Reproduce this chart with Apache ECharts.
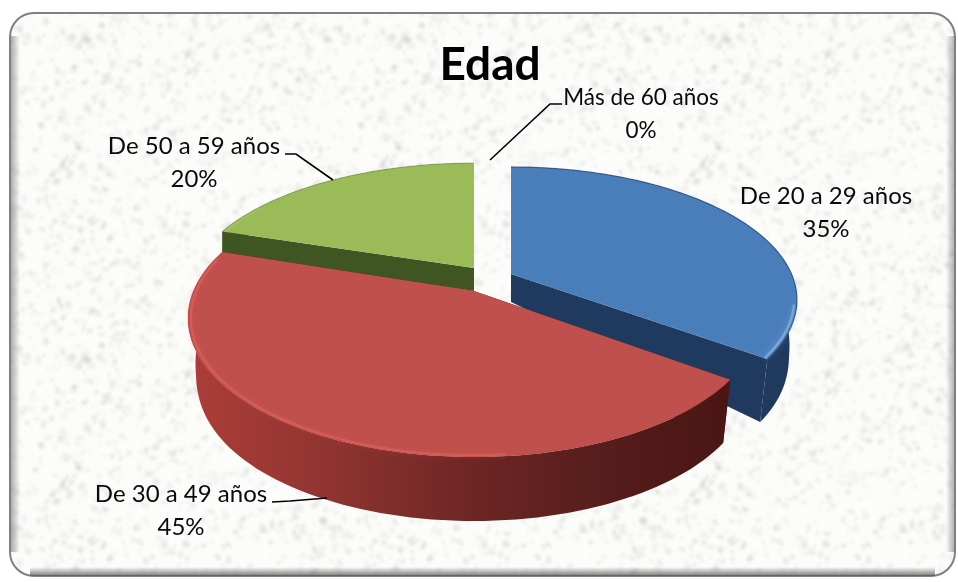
<!DOCTYPE html>
<html><head><meta charset="utf-8">
<style>html,body{margin:0;padding:0;background:#fff}#c{width:958px;height:582px}</style>
<script src="https://cdn.jsdelivr.net/npm/echarts@6/dist/echarts.min.js"></script>
</head><body><div id="c"></div>
<script>
// ---- data ----
const chartTitle = 'Edad';
const categories = ['De 20 a 29 años', 'De 30 a 49 años', 'De 50 a 59 años', 'Más de 60 años'];
const percents = [35, 45, 20, 0];

// ---- presentation (projection of the tilted, exploded pie) ----
const FONT = 'Lato, "Open Sans", sans-serif';
const apexAt = [[511, 274], [474, 291], [474, 268], [474, 268]];
const scaleY = [1, 1.045, 0.98, 1];
const apexDepth = [28, 20, 23, 0];
const paintOrder = [1, 3, 2, 4];
const topFill = ['#4a7ebb', '#c0504d', '#9bbb59', '#f79646'];
const edgeLine = ['rgba(40,75,120,0.75)', 'rgba(150,50,45,0.2)', 'rgba(120,150,70,0.5)', '#fff'];
const glowLine = ['rgba(140,180,225,0.7)', 'rgba(228,100,94,0.55)', 'rgba(180,205,120,0.3)', '#fff'];
const glowSpan = [[0.82, 1], [0.3, 0.98], [0, 0.2], [0, 1]];
const cutFill = ['#1f3a5e', '#5a1b19', '#3f5522', '#000'];
const wallFills = ['#1f3a5e', null, '#3f5522', '#000'];
const labelAt = [[826, 213], [181, 511], [194, 163], [641, 114]];
const labelSize = [24, 24, 24, 22.5];
const leaders = [null, [[272, 502], [290, 501], [327, 498]], [[285, 154], [296, 154], [333, 180]], [[490, 160], [550, 104], [562, 104]]];
const A = 280.5, B = 127.9, K = 0.195;

function topPoint(i, theta, scale) {
  const u = Math.sin(theta), v = -Math.cos(theta), w = 1 - K * v;
  return [apexAt[i][0] + A * u / w * scale, apexAt[i][1] + B * v / w * scaleY[i] * scale];
}
function bottomPoint(i, theta) {
  const u = Math.sin(theta), v = -Math.cos(theta), w = 1 - K * v;
  const depth = Math.max(22, 64 - 17.3 * Math.pow(1 - v, 3.44));
  const t = Math.min(1, Math.max(0, (v + 0.3) / 0.5));
  const shrink = 1 - 0.028 * t;
  return [apexAt[i][0] + A * u / w * shrink, apexAt[i][1] + B * v / w * scaleY[i] + depth];
}
function arc(a0, a1, fn) {
  const pts = [], n = 90;
  for (let k = 0; k <= n; k++) pts.push(fn(a0 + (a1 - a0) * k / n));
  return pts;
}
const total = percents.reduce((s, x) => s + x, 0);

function renderSlice(params, api) {
  const i = params.dataIndex, val = api.value(0);
  let before = 0;
  for (let k = 0; k < i; k++) before += percents[k];
  const a0 = before / total * 2 * Math.PI, a1 = (before + val) / total * 2 * Math.PI;
  const z = paintOrder[i] * 10;
  const children = [];
  children.push({
    type: 'text', z2: 100,
    style: { x: labelAt[i][0], y: labelAt[i][1], text: categories[i] + '\n' + val + '%', align: 'center', verticalAlign: 'middle',
      font: labelSize[i] + 'px ' + FONT, lineHeight: 33, fill: '#0a0a0a' }
  });
  if (leaders[i]) children.push({ type: 'polyline', z2: 99, shape: { points: leaders[i] }, style: { stroke: '#000', lineWidth: 1.6, fill: null } });
  if (val > 0) {
    const apex = apexAt[i], apexB = [apex[0], apex[1] + apexDepth[i]];
    const rimTop = arc(a0, a1, t => topPoint(i, t, 1));
    const rimBot = arc(a0, a1, t => bottomPoint(i, t));
    const wallFill = wallFills[i] || new echarts.graphic.LinearGradient(190, 0, 730, 0, [
          { offset: 0, color: '#ad3d39' }, { offset: 0.26, color: '#8f3431' },
          { offset: 0.5, color: '#702725' }, { offset: 0.75, color: '#561e1c' }, { offset: 1, color: '#4a1513' }], true);
    [a0, a1].forEach(t => children.push({ type: 'polygon', z2: z, shape: { points: [apex, topPoint(i, t, 1), bottomPoint(i, t), apexB] }, style: { fill: cutFill[i] } }));
    children.push({ type: 'polygon', z2: z + 1, shape: { points: rimTop.concat(rimBot.slice().reverse()) }, style: { fill: wallFill } });
    children.push({ type: 'polygon', z2: z + 2, shape: { points: [apex].concat(rimTop) }, style: { fill: topFill[i] } });
    children.push({ type: 'polyline', z2: z + 3, shape: { points: rimTop }, style: { stroke: edgeLine[i], lineWidth: 1.2, fill: null } });
    const g0 = a0 + (a1 - a0) * glowSpan[i][0], g1 = a0 + (a1 - a0) * glowSpan[i][1];
    children.push({ type: 'polyline', z2: z + 4, shape: { points: arc(g0, g1, t => topPoint(i, t, 0.99)) },
      style: { stroke: glowLine[i], lineWidth: 2.5, fill: null, shadowBlur: 6, shadowColor: glowLine[i] } });
  }
  return { type: 'group', children };
}

// speckled paper texture used as the chart-area fill (purely decorative)
function paper() {
  const S = 320, c = document.createElement('canvas'); c.width = S; c.height = S;
  const g = c.getContext('2d');
  g.fillStyle = '#fcfcfb'; g.fillRect(0, 0, S, S);
  let seed = 12345;
  const next = () => (seed = (seed * 1103515245 + 12345) & 0x7fffffff) / 0x7fffffff;
  g.filter = 'blur(1.6px)';
  for (let n = 0; n < 1500; n++) {
    const x = next() * S, y = next() * S, r = 0.7 + next() * 2.2, rot = next() * 3, al = 0.05 + next() * 0.13;
    g.fillStyle = 'rgba(150,150,150,' + al.toFixed(3) + ')';
    for (const dx of [-S, 0, S]) for (const dy of [-S, 0, S]) {
      if (x + dx < -10 || x + dx > S + 10 || y + dy < -10 || y + dy > S + 10) continue;
      g.beginPath(); g.ellipse(x + dx, y + dy, r * 1.5, r, rot, 0, 7); g.fill();
    }
  }
  return c;
}

const G = echarts.graphic;
const chart = echarts.init(document.getElementById('c'), null, { width: 958, height: 582 });
chart.setOption({
  backgroundColor: '#ffffff',
  animation: false,
  title: { text: chartTitle, left: 485, top: 37, textAlign: 'center',
    textStyle: { fontFamily: FONT, fontWeight: 'bold', fontSize: 46, color: '#000' } },
  graphic: [
    { type: 'rect', z: -10, shape: { x: 10, y: 13, width: 945, height: 563, r: 24 },
      style: { fill: { image: paper(), repeat: 'repeat' }, stroke: '#808080', lineWidth: 2 } },
    { type: 'rect', z: -9, shape: { x: 11, y: 36, width: 9, height: 516 },
      style: { fill: new G.LinearGradient(0, 0, 1, 0, [{ offset: 0, color: 'rgba(110,110,110,0.55)' }, { offset: 1, color: 'rgba(110,110,110,0)' }]) } },
    { type: 'rect', z: -9, shape: { x: 946, y: 36, width: 8, height: 516 },
      style: { fill: new G.LinearGradient(0, 0, 1, 0, [{ offset: 0, color: 'rgba(110,110,110,0)' }, { offset: 1, color: 'rgba(110,110,110,0.5)' }]) } },
    { type: 'rect', z: -9, shape: { x: 30, y: 567, width: 905, height: 9 },
      style: { fill: new G.LinearGradient(0, 0, 0, 1, [{ offset: 0, color: 'rgba(90,90,90,0)' }, { offset: 1, color: 'rgba(90,90,90,0.8)' }]) } }
  ],
  series: [{
    type: 'custom', coordinateSystem: 'none', silent: true, clip: false,
    data: percents.map(v => [v]),
    renderItem: renderSlice
  }]
});
</script></body></html>
